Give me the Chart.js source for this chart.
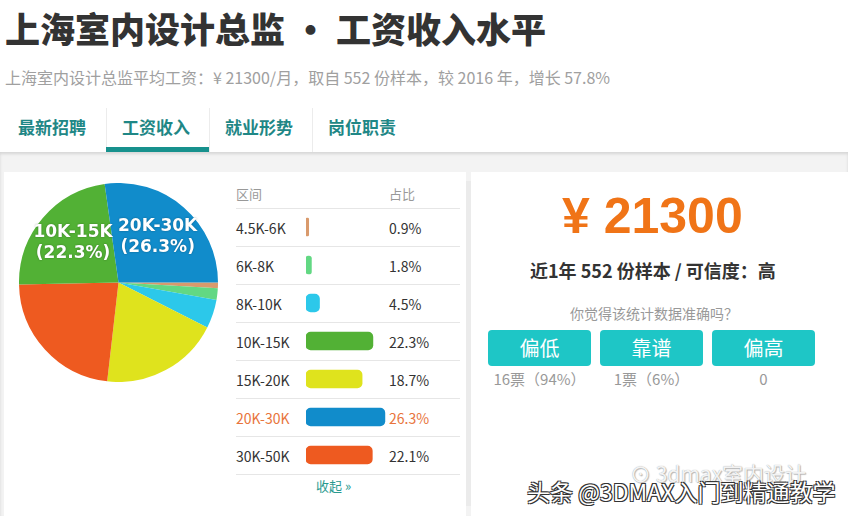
<!DOCTYPE html>
<html lang="zh-CN">
<head>
<meta charset="UTF-8">
<title>上海室内设计总监 • 工资收入水平</title>
<script src="https://cdn.jsdelivr.net/npm/chart.js"></script>
<style>
  * { box-sizing: border-box; }
  body { margin: 0; width: 848px; height: 516px; overflow: hidden; background: #fff;
         font-family: "Noto Sans CJK SC", "Noto Sans", sans-serif; position: relative; }
  .abs { position: absolute; white-space: nowrap; }
  h1 { position: absolute; left: 5px; top: 9px; margin: 0; font-size: 35px; line-height: 1.1; font-weight: 900;
       color: #333; }
  .sub { left: 5px; top: 65px; font-size: 16px; color: #a0a0a0; }
  .tab { top: 114px; font-size: 17px; font-weight: 700; color: #1f8786; }
  .tabsep { position: absolute; top: 108px; width: 1px; height: 44px; background: #ececec; }
  .band { position: absolute; left: 0; top: 152px; width: 848px; height: 364px; background: #f3f3f3;
          box-shadow: inset 0 2px 3px rgba(0,0,0,0.12); }
  .panel { position: absolute; background: #fff; }
  .row-line { position: absolute; left: 236px; width: 224px; height: 1px; background: #e6e6e6; }
  .lbl { left: 236px; font-size: 14px; color: #333; }
  .pct { left: 389px; font-size: 14px; color: #333; }
  .hdr { font-size: 13px; color: #999; top: 184px; }
  .btn { position: absolute; top: 330px; width: 103px; height: 36px; background: #1ec6c6;
         border-radius: 4px; color: #fff; font-size: 20px; text-align: center; line-height: 36px; }
  .vote { top: 368px; width: 103px; text-align: center; font-size: 15px; color: #999; }
</style>
</head>
<body>
<h1>上海室内设计总监 • 工资收入水平</h1>
<div class="abs sub">上海室内设计总监平均工资：¥ 21300/月，取自 552 份样本，较 2016 年，增长 57.8%</div>

<div class="abs tab" style="left:18px">最新招聘</div>
<div class="abs tab" style="left:122px">工资收入</div>
<div class="abs tab" style="left:225px">就业形势</div>
<div class="abs tab" style="left:328px">岗位职责</div>
<div class="tabsep" style="left:106px"></div>
<div class="tabsep" style="left:209px"></div>
<div class="tabsep" style="left:312px"></div>

<div class="band"></div>
<div style="position:absolute;left:106px;top:147px;width:103px;height:5px;background:#17918d"></div>
<div class="panel" style="left:4px;top:172px;width:462px;height:344px"></div>
<div class="panel" style="left:471px;top:172px;width:377px;height:344px"></div>
<div style="position:absolute;left:466px;top:181px;width:5px;height:325px;background:#ebebeb"></div>

<div style="position:absolute;left:19px;top:183px;width:199px;height:199px">
  <canvas id="pieChart"></canvas>
</div>

<div class="abs hdr" style="left:236px">区间</div>
<div class="abs hdr" style="left:389px">占比</div>
<div id="table"></div>
<div style="position:absolute;left:300px;top:208px;width:96px;height:266px">
  <canvas id="barChart"></canvas>
</div>
<div class="abs" style="left:316px;top:476px;font-size:13px;color:#2a9a90">收起 »</div>

<div class="abs" style="left:562px;top:191px;font-family:'Liberation Sans',Arial,sans-serif;font-size:50px;line-height:1;font-weight:700;color:#f07417">¥ 21300</div>
<div class="abs" style="left:530px;top:257px;font-size:18px;font-weight:700;color:#333">近1年 552 份样本 / 可信度：高</div>
<div class="abs" style="left:570px;top:303px;font-size:14px;color:#999">你觉得该统计数据准确吗？</div>
<div id="votes"></div>

<div class="abs" style="left:630px;top:458px;font-size:21px;color:rgba(255,255,255,0.9);text-shadow:0 0 1px #999,1px 1px 1px #bbb">⊙ 3dmax室内设计</div>
<div class="abs" style="left:527px;top:474px;font-size:23px;color:#fff;text-shadow:1px 1px 0 #333,-1px -1px 0 #333,1px -1px 0 #333,-1px 1px 0 #333">头条 @3DMAX入门到精通教学</div>

<script>
  // salary bands in table order
  const categories = ['4.5K-6K', '6K-8K', '8K-10K', '10K-15K', '15K-20K', '20K-30K', '30K-50K'];
  const shares = [0.9, 1.8, 4.5, 22.3, 18.7, 26.3, 22.1];
  // order the slices are drawn in the pie (clockwise from 3 o'clock)
  const pieOrder = [0, 1, 2, 4, 6, 3, 5];
  const labelledBands = ['10K-15K', '20K-30K'];
  const highlightBand = '20K-30K';

  const voteLabels = ['偏低', '靠谱', '偏高'];
  const voteCounts = ['16票（94%）', '1票（6%）', '0'];

  const bandColors = ['#d99a6c', '#62d883', '#2cc8ea', '#52b135', '#dfe31d', '#118ccb', '#ee5a20'];

  // table text + separators
  const table = document.getElementById('table');
  let html = '<div class="row-line" style="top:208px"></div>';
  categories.forEach((c, i) => {
    const top = 208 + i * 38;
    const col = c === highlightBand ? 'color:#e8743b' : '';
    html += `<div class="abs lbl" style="top:${top + 10}px;${col}">${c}</div>`;
    html += `<div class="abs pct" style="top:${top + 10}px;${col}">${shares[i]}%</div>`;
    html += `<div class="row-line" style="top:${top + 38}px"></div>`;
  });
  table.innerHTML = html;

  const votes = document.getElementById('votes');
  voteLabels.forEach((v, i) => {
    const left = 488 + i * 112;
    votes.innerHTML += `<div class="btn" style="left:${left}px">${v}</div>` +
      `<div class="abs vote" style="left:${left}px">${voteCounts[i]}</div>`;
  });

  const pieLabels = {
    id: 'pieLabels',
    afterDatasetsDraw(chart) {
      const ctx = chart.ctx;
      const meta = chart.getDatasetMeta(0);
      ctx.save();
      ctx.font = 'bold 17px "DejaVu Sans", sans-serif';
      ctx.textAlign = 'center';
      ctx.textBaseline = 'middle';
      ctx.fillStyle = '#fff';
      ctx.shadowColor = 'rgba(0,0,0,0.35)';
      ctx.shadowBlur = 2;
      meta.data.forEach((arc, i) => {
        const name = chart.data.labels[i];
        if (!labelledBands.includes(name)) return;
        const p = arc.getProps(['x', 'y', 'startAngle', 'endAngle', 'outerRadius']);
        const a = (p.startAngle + p.endAngle) / 2;
        const r = p.outerRadius * 0.6;
        const x = p.x + Math.cos(a) * r;
        const y = p.y + Math.sin(a) * r;
        ctx.fillText(name, x, y - 11);
        ctx.fillText('(' + chart.data.datasets[0].data[i] + '%)', x, y + 10);
      });
      ctx.restore();
    }
  };

  new Chart(document.getElementById('pieChart'), {
    type: 'pie',
    data: {
      labels: pieOrder.map(i => categories[i]),
      datasets: [{
        data: pieOrder.map(i => shares[i]),
        backgroundColor: pieOrder.map(i => bandColors[i]),
        borderWidth: 0
      }]
    },
    options: {
      responsive: true,
      maintainAspectRatio: false,
      animation: false,
      rotation: 90,
      layout: { padding: 0 },
      plugins: { legend: { display: false }, tooltip: { enabled: false } }
    },
    plugins: [pieLabels]
  });

  new Chart(document.getElementById('barChart'), {
    type: 'bar',
    data: {
      labels: categories,
      datasets: [{
        data: shares,
        backgroundColor: bandColors,
        borderRadius: 5,
        borderSkipped: false,
        barThickness: 18
      }]
    },
    options: {
      indexAxis: 'y',
      responsive: true,
      maintainAspectRatio: false,
      animation: false,
      layout: { padding: { left: 6, right: 0, top: 0, bottom: 0 } },
      scales: {
        x: { display: false, min: 0, max: 30 },
        y: { display: false }
      },
      plugins: { legend: { display: false }, tooltip: { enabled: false } }
    }
  });
</script>
</body>
</html>
